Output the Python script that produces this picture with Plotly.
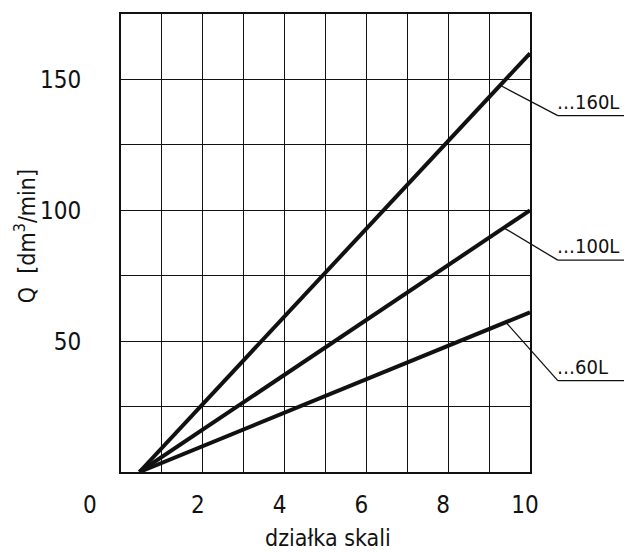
import plotly.graph_objects as go

# ---- data ----
series_names = ["…160L", "…100L", "…60L"]
q_start_x = 0.45          # scale division where Q = 0
q_end_x = 10.0
q_max = [160, 100, 61]    # Q at division 10 [dm3/min]

x_tick_vals = [2, 4, 6, 8, 10]
x_tick_text = ["2", "4", "6", "8", "10"]
y_tick_vals = [50, 100, 150]
y_tick_text = ["50", "100", "150"]
corner_label = "0"

x_title = "działka skali"
y_title = "Q  [dm<sup>3</sup>/min]"

# ---- layout / style ----
W, H = 624, 553
ML, MR, MT, MB = 121, 94, 12, 81
X_RANGE = [0, 10]
Y_RANGE = [0, 175]
FONT = "DejaVu Sans Condensed, sans-serif"
INK = "#111"

# label anchor positions (paper coords) and leader start abscissa
label_elbow_y = [0.778, 0.4625, 0.1995]
label_elbow_x = 1.068
label_line_end_x = 1.24
leader_start_x = [9.27, 9.36, 9.41]

fig = go.Figure()
for name, qm in zip(series_names, q_max):
    fig.add_trace(go.Scatter(
        x=[q_start_x, q_end_x], y=[0, qm], mode="lines", name=name,
        line=dict(color=INK, width=4), showlegend=False))


def to_paper_x(v):
    return (v - X_RANGE[0]) / (X_RANGE[1] - X_RANGE[0])


def to_paper_y(v):
    return (v - Y_RANGE[0]) / (Y_RANGE[1] - Y_RANGE[0])


shapes = []
annotations = []
for name, qm, sx, ey in zip(series_names, q_max, leader_start_x, label_elbow_y):
    sy = qm * (sx - q_start_x) / (q_end_x - q_start_x)
    px, py = to_paper_x(sx), to_paper_y(sy)
    shapes.append(dict(type="line", xref="paper", yref="paper", x0=px, y0=py,
                       x1=label_elbow_x, y1=ey, line=dict(color=INK, width=1.3)))
    shapes.append(dict(type="line", xref="paper", yref="paper", x0=label_elbow_x, y0=ey,
                       x1=label_line_end_x, y1=ey, line=dict(color=INK, width=1.3)))
    annotations.append(dict(text=name, xref="paper", yref="paper", x=label_elbow_x, y=ey,
                            xanchor="left", yanchor="bottom", showarrow=False,
                            font=dict(family=FONT, size=20, color=INK), xshift=-3, yshift=0))

annotations.append(dict(text=corner_label, xref="paper", yref="paper", x=0, y=0,
                        xanchor="center", yanchor="middle", xshift=-31, yshift=-33,
                        showarrow=False, font=dict(family=FONT, size=24, color=INK)))
annotations.append(dict(text=x_title, xref="paper", yref="paper", x=0.506, y=0,
                        xanchor="center", yanchor="middle", yshift=-66,
                        showarrow=False, font=dict(family=FONT, size=23, color=INK)))
annotations.append(dict(text=y_title, xref="paper", yref="paper", x=0, y=0.515,
                        xanchor="center", yanchor="middle", xshift=-96, textangle=-90,
                        showarrow=False, font=dict(family=FONT, size=23, color=INK)))

axis_common = dict(showline=True, mirror=True, linecolor=INK, linewidth=1.8,
                   showgrid=True, gridcolor=INK, gridwidth=1.4, zeroline=False,
                   ticks="", tickfont=dict(family=FONT, size=24, color=INK))

fig.update_layout(
    width=W, height=H, margin=dict(l=ML, r=MR, t=MT, b=MB),
    paper_bgcolor="white", plot_bgcolor="white",
    xaxis=dict(range=X_RANGE, tickvals=x_tick_vals, ticktext=x_tick_text,
               minor=dict(dtick=1, showgrid=True, gridcolor=INK, gridwidth=1.4),
               ticklabelstandoff=10, ticklabelshift=-5, **axis_common),
    yaxis=dict(range=Y_RANGE, tickvals=y_tick_vals, ticktext=y_tick_text,
               minor=dict(dtick=25, showgrid=True, gridcolor=INK, gridwidth=1.4),
               ticklabelstandoff=33, **axis_common),
    shapes=shapes, annotations=annotations,
)

fig.write_html("out.html", config={"displayModeBar": False},
               post_script="document.body.style.margin='0';")
